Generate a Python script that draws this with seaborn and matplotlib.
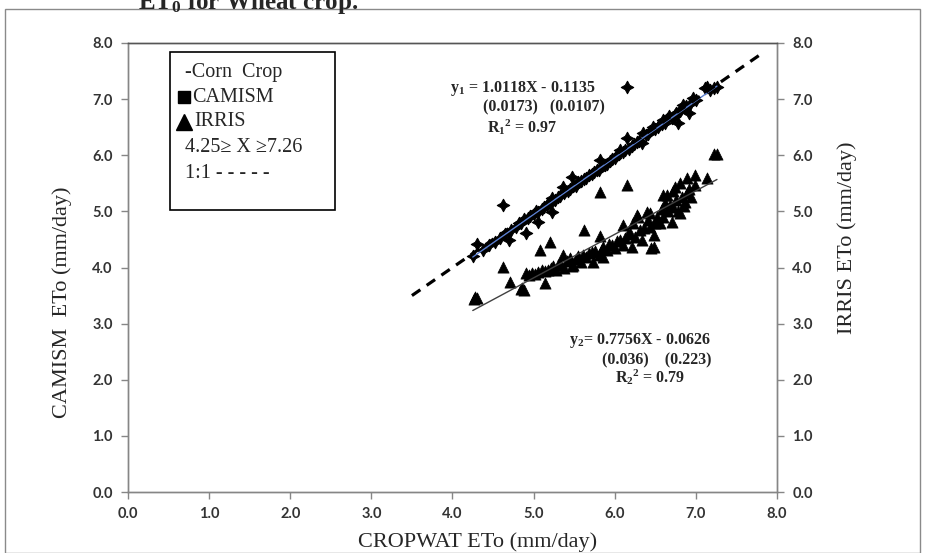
import numpy as np
import pandas as pd
import matplotlib
matplotlib.use("Agg")
import matplotlib.pyplot as plt
import seaborn as sns
from matplotlib.patches import Rectangle

# ---------------- data ----------------
camism_x = [4.25, 4.30, 4.38, 4.45, 4.52, 4.58, 4.62, 4.65, 4.70, 4.72, 4.78, 4.82, 4.84, 4.88,
            4.90, 4.93, 4.96, 5.00, 5.03, 5.06, 5.06, 5.10, 5.13, 5.16, 5.20, 5.23, 5.23, 5.26,
            5.30, 5.33, 5.36, 5.38, 5.42, 5.45, 5.47, 5.49, 5.52, 5.55, 5.58, 5.62, 5.65, 5.68,
            5.72, 5.75, 5.78, 5.80, 5.82, 5.84, 5.88, 5.91, 5.94, 5.97, 6.00, 6.03, 6.05, 6.07,
            6.10, 6.13, 6.15, 6.15, 6.18, 6.21, 6.24, 6.27, 6.30, 6.34, 6.35, 6.38, 6.41, 6.44,
            6.47, 6.50, 6.53, 6.55, 6.58, 6.60, 6.62, 6.65, 6.67, 6.70, 6.72, 6.74, 6.76, 6.78,
            6.80, 6.82, 6.84, 6.86, 6.88, 6.91, 6.93, 6.97, 7.00, 7.11, 7.14, 7.18, 7.22, 7.26]
camism_y = [4.21, 4.42, 4.32, 4.40, 4.45, 4.52, 5.12, 4.60, 4.49, 4.66, 4.72, 4.80, 4.79, 4.86,
            4.62, 4.88, 4.92, 4.95, 5.00, 4.81, 4.99, 5.05, 5.08, 5.12, 5.14, 4.99, 5.24, 5.20,
            5.25, 5.28, 5.44, 5.32, 5.37, 5.40, 5.61, 5.45, 5.46, 5.52, 5.54, 5.57, 5.60, 5.64,
            5.67, 5.71, 5.73, 5.74, 5.92, 5.80, 5.83, 5.85, 5.90, 5.93, 5.95, 6.00, 6.02, 6.10,
            6.06, 6.10, 6.31, 7.22, 6.12, 6.17, 6.20, 6.24, 6.26, 6.22, 6.40, 6.36, 6.38, 6.43,
            6.51, 6.47, 6.50, 6.54, 6.56, 6.62, 6.58, 6.64, 6.70, 6.66, 6.69, 6.72, 6.75, 6.58,
            6.78, 6.82, 6.90, 6.84, 6.88, 6.76, 6.92, 7.02, 6.98, 7.20, 7.22, 7.17, 7.20, 7.22]

irris_x = [4.26, 4.28, 4.30, 4.62, 4.71, 4.84, 4.86, 4.88, 4.90, 4.94, 4.98, 5.02, 5.06, 5.08,
           5.10, 5.14, 5.14, 5.18, 5.20, 5.22, 5.24, 5.27, 5.30, 5.33, 5.36, 5.38, 5.41, 5.45,
           5.47, 5.49, 5.52, 5.55, 5.58, 5.61, 5.62, 5.64, 5.68, 5.72, 5.73, 5.76, 5.80, 5.82,
           5.82, 5.84, 5.86, 5.86, 5.90, 5.93, 5.97, 6.00, 6.03, 6.07, 6.10, 6.10, 6.13, 6.15,
           6.16, 6.19, 6.21, 6.23, 6.25, 6.27, 6.29, 6.31, 6.34, 6.36, 6.40, 6.41, 6.44, 6.44,
           6.45, 6.48, 6.48, 6.50, 6.52, 6.56, 6.58, 6.60, 6.60, 6.62, 6.65, 6.66, 6.68, 6.70,
           6.72, 6.72, 6.74, 6.76, 6.78, 6.81, 6.81, 6.83, 6.85, 6.87, 6.89, 6.89, 6.91, 6.94,
           6.99, 6.99, 7.14, 7.22, 7.26]
irris_y = [3.44, 3.48, 3.46, 4.01, 3.74, 3.62, 3.64, 3.60, 3.90, 3.86, 3.90, 3.88, 3.92, 4.31,
           3.95, 3.94, 3.73, 3.96, 4.46, 3.99, 4.02, 3.96, 4.05, 4.08, 4.22, 4.00, 4.12, 4.17,
           4.03, 4.05, 4.15, 4.20, 4.10, 4.22, 4.67, 4.18, 4.25, 4.28, 4.10, 4.30, 4.22, 5.35,
           4.56, 4.33, 4.37, 4.19, 4.31, 4.42, 4.40, 4.35, 4.48, 4.49, 4.76, 4.40, 4.53, 5.47,
           4.60, 4.62, 4.37, 4.79, 4.55, 4.94, 4.90, 4.66, 4.49, 4.70, 4.99, 4.85, 4.97, 4.72,
           4.35, 4.58, 4.37, 4.80, 4.90, 4.79, 5.05, 5.29, 4.90, 5.15, 5.29, 5.00, 5.12, 4.81,
           5.08, 5.36, 5.44, 5.20, 5.00, 4.97, 5.51, 5.25, 5.10, 5.17, 5.33, 5.60, 5.40, 5.25,
           5.65, 5.47, 5.60, 6.02, 6.02]

one_to_one = [3.5, 7.8]
fit_range = [4.25, 7.26]
fit1 = (1.0118, -0.1135)
fit2 = (0.7756, -0.0626)
ticks = [0.0, 1.0, 2.0, 3.0, 4.0, 5.0, 6.0, 7.0, 8.0]

# ---------------- style ----------------
sns.set_theme(style="white")
plt.rcParams["font.family"] = ["Liberation Serif", "DejaVu Serif"]
plt.rcParams["mathtext.fontset"] = "custom"
plt.rcParams["mathtext.rm"] = "Liberation Serif:bold"
plt.rcParams["mathtext.it"] = "Liberation Serif:bold"
plt.rcParams["mathtext.bf"] = "Liberation Serif:bold"

W, H = 929, 553
fig = plt.figure(figsize=(W / 100, H / 100), dpi=100)
fig.patch.set_facecolor("white")

L, R, T, B = 128, 777, 43, 492
ax = fig.add_axes([L / W, 1 - B / H, (R - L) / W, (B - T) / H])

df1 = pd.DataFrame({"x": camism_x, "y": camism_y})
df2 = pd.DataFrame({"x": irris_x, "y": irris_y})

sns.scatterplot(data=df1, x="x", y="y", marker=(4, 1, 0), s=80, color="black",
                edgecolor="black", linewidth=0.8, ax=ax, zorder=3)
sns.scatterplot(data=df2, x="x", y="y", marker="^", s=65, color="black",
                edgecolor="black", linewidth=0.5, ax=ax, zorder=3)

fx = np.array(fit_range)
ax.plot(fx, fit1[0] * fx + fit1[1], color="#5b7fd0", lw=1.0, zorder=4)
ax.plot(fx, fit2[0] * fx + fit2[1], color="#404040", lw=1.0, zorder=4)
ax.plot(one_to_one, one_to_one, color="black", lw=2.3, ls=(0, (3.2, 2.4)), zorder=5)

ax.set_xlim(0, 8)
ax.set_ylim(0, 8)
ax.set_xticks(ticks)
ax.set_yticks(ticks)
tick_font = dict(family="Lato", weight="bold", size=10.5)
ax.set_xticklabels([f"{t:.1f}" for t in ticks], fontdict=tick_font, color="#333333")
ax.set_yticklabels([f"{t:.1f}" for t in ticks], fontdict=tick_font, color="#333333")
ax.tick_params(axis="both", direction="out", length=5, width=1, color="#868686",
               bottom=True, left=True, pad=6)
ax.set_xlabel("")
ax.set_ylabel("")
for s in ax.spines.values():
    s.set_color("#868686")
    s.set_linewidth(1.0)
ax.spines["top"].set_color("#555555")

ax2 = ax.twinx()
ax2.set_ylim(0, 8)
ax2.set_yticks(ticks)
ax2.set_yticklabels([f"{t:.1f}" for t in ticks], fontdict=tick_font, color="#333333")
ax2.tick_params(axis="y", direction="out", length=5, width=1, color="#868686", right=True, pad=6)
for s in ax2.spines.values():
    s.set_color("#868686")
    s.set_linewidth(1.0)
ax2.spines["top"].set_color("#555555")
ax2.grid(False)

def axf(px, py):
    return ((px - L) / (R - L), (B - py) / (B - T))

# legend box
lx0, ly0 = axf(170, 210)
lx1, ly1 = axf(335, 52)
ax.add_patch(Rectangle((lx0, ly0), lx1 - lx0, ly1 - ly0, transform=ax.transAxes,
                       fill=False, ec="black", lw=1.2, zorder=6))
leg_fs = 14.5
ax.text(*axf(185, 73), "-Corn  Crop", transform=ax.transAxes, fontsize=leg_fs, va="center", ha="left")
ax.plot(*axf(184, 97), marker="s", ms=8, color="black", transform=ax.transAxes, clip_on=False)
ax.text(*axf(192, 97), "CAMISM", transform=ax.transAxes, fontsize=leg_fs, va="center", ha="left")
ax.plot(*axf(184, 122), marker="^", ms=11, color="black", transform=ax.transAxes, clip_on=False)
ax.text(*axf(194, 122), "IRRIS", transform=ax.transAxes, fontsize=leg_fs, va="center", ha="left")
ax.text(*axf(185, 148), "4.25\u2265 X \u22657.26", transform=ax.transAxes, fontsize=leg_fs, va="center", ha="left")
ax.text(*axf(185, 173), "1:1 - - - - -", transform=ax.transAxes, fontsize=leg_fs, va="center", ha="left")

# equations
eq_fs = 11.5
eqkw = dict(transform=ax.transAxes, fontsize=eq_fs, fontweight="bold", va="center", ha="left")
ax.text(*axf(450, 88), r"y$_1$ = 1.0118X - 0.1135", **eqkw)
ax.text(*axf(483, 107), "(0.0173)   (0.0107)", **eqkw)
ax.text(*axf(487, 127), r"R$_1$$^2$ = 0.97", **eqkw)
ax.text(*axf(569, 340), r"y$_2$= 0.7756X - 0.0626", **eqkw)
ax.text(*axf(602, 360), "(0.036)    (0.223)", **eqkw)
ax.text(*axf(615, 377), r"R$_2$$^2$ = 0.79", **eqkw)

# axis labels
lab_fs = 16
fig.text(62 / W, 1 - 302 / H, "CAMISM  ETo (mm/day)", rotation=90, fontsize=lab_fs, ha="center", va="center")
fig.text(847 / W, 1 - 238 / H, "IRRIS ETo (mm/day)", rotation=90, fontsize=lab_fs, ha="center", va="center")
fig.text(478 / W, 1 - 542 / H, "CROPWAT ETo (mm/day)", fontsize=lab_fs, ha="center", va="center")

# outer frame and cut-off caption (only its lower part shows, as in the source)
fig.add_artist(Rectangle((5 / W, 0), 915 / W, 1 - 9 / H, transform=fig.transFigure,
                         fill=False, ec="#8a8a8a", lw=1))
fig.text(138 / W, 1 - 9 / H, r"ET$_0$ for Wheat crop.", fontsize=18, fontweight="bold",
         ha="left", va="baseline")

fig.savefig("out.png", dpi=100, facecolor="white")
